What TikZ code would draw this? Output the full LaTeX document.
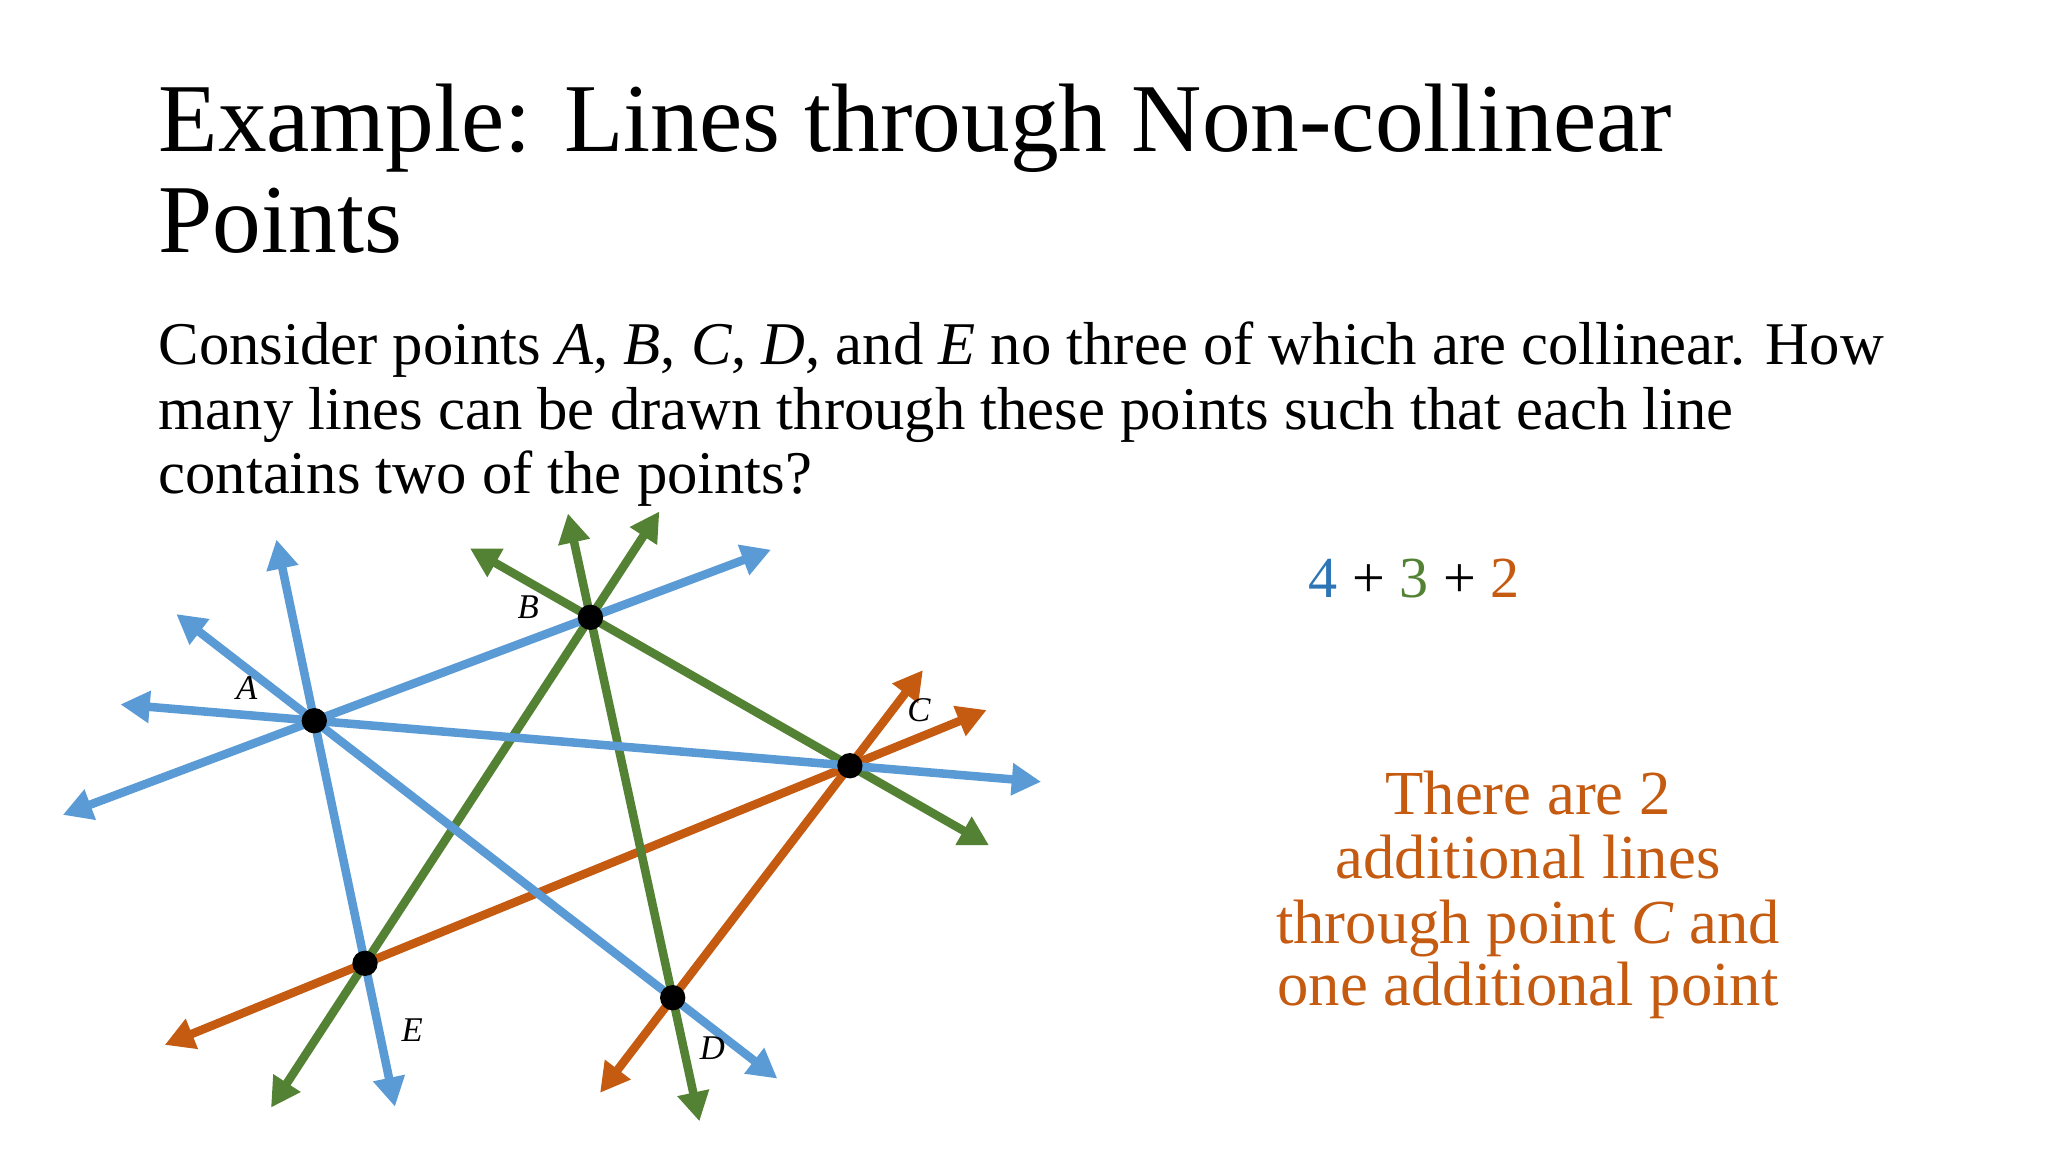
\documentclass[tikz,border=0pt]{standalone}
\usepackage{fontspec}
\setmainfont{Liberation Serif}
\usetikzlibrary{arrows.meta,calc}

\definecolor{lineblue}{RGB}{91,155,213}
\definecolor{linegreen}{RGB}{84,130,53}
\definecolor{lineorange}{RGB}{197,90,17}
\definecolor{numblue}{RGB}{46,117,182}

\tikzset{
  ray/.style={line width=3.2pt, >={Triangle[length=11pt,width=11.5pt]}, <->},
  dot/.style={circle, fill=black, inner sep=0pt, minimum size=9.5pt},
  ptlabel/.style={font=\fontsize{13}{13}\selectfont\itshape, inner sep=0pt},
  titletext/.style={font=\fontsize{36.5}{40}\selectfont, inner sep=0pt, anchor=base west},
  bodytext/.style={font=\fontsize{22.75}{26}\selectfont, inner sep=0pt, anchor=base west},
  notetext/.style={font=\fontsize{23.5}{26}\selectfont, inner sep=0pt, anchor=base, text=lineorange},
}

\begin{document}
\begin{tikzpicture}[x=0.375pt,y=0.375pt,yscale=-1,xscale=1]
\useasboundingbox (0,0) rectangle (2048,1152);

% Title and question
\node[titletext] (title1) at (158,151) {Example: Lines through Non-collinear};
\node[titletext] (title2) at (158,252) {Points};
\node[bodytext] (q1) at (158,364) {Consider points \textit{A}, \textit{B}, \textit{C}, \textit{D}, and \textit{E} no three of which are collinear. How};
\node[bodytext] (q2) at (158,429) {many lines can be drawn through these points such that each line};
\node[bodytext] (q3) at (158,493) {contains two of the points?};

% the five points
\coordinate (A) at (314.3,720.7);
\coordinate (B) at (590.4,617.3);
\coordinate (C) at (849.9,765.7);
\coordinate (D) at (672.7,997.7);
\coordinate (E) at (365.0,963.3);

% lines through C (orange)
\draw[ray, lineorange] ($(C)!-0.282!(E)$) -- ($(C)!1.413!(E)$);
\draw[ray, lineorange] ($(C)!-0.412!(D)$) -- ($(C)!1.410!(D)$);
% lines through B (green)
\draw[ray, linegreen] ($(B)!-0.464!(C)$) -- ($(B)!1.536!(C)$);
\draw[ray, linegreen] ($(B)!-0.273!(D)$) -- ($(B)!1.325!(D)$);
\draw[ray, linegreen] ($(B)!-0.306!(E)$) -- ($(B)!1.417!(E)$);
% lines through A (blue)
\draw[ray, lineblue] ($(A)!-0.911!(B)$) -- ($(A)!1.654!(B)$);
\draw[ray, lineblue] ($(A)!-0.362!(C)$) -- ($(A)!1.357!(C)$);
\draw[ray, lineblue] ($(A)!-0.385!(D)$) -- ($(A)!1.292!(D)$);
\draw[ray, lineblue] ($(A)!-0.747!(E)$) -- ($(A)!1.591!(E)$);

\node[dot] (dotA) at (A) {};
\node[dot] (dotB) at (B) {};
\node[dot] (dotC) at (C) {};
\node[dot] (dotD) at (D) {};
\node[dot] (dotE) at (E) {};

\node[ptlabel] (labA) at (246.7,688.3) {A};
\node[ptlabel] (labB) at (528.3,606.7) {B};
\node[ptlabel] (labC) at (918.8,710.0) {C};
\node[ptlabel] (labD) at (712.3,1047.7) {D};
\node[ptlabel] (labE) at (412.3,1030.0) {E};

% count and note
\node[bodytext, font=\fontsize{21.8}{24}\selectfont] (count) at (1308,597) {{\color{numblue}4} + {\color{linegreen}3} + {\color{lineorange}2}};
\node[notetext] (note1) at (1528,814) {There are 2};
\node[notetext] (note2) at (1528,878) {additional lines};
\node[notetext] (note3) at (1528,943) {through point \textit{C} and};
\node[notetext] (note4) at (1528,1005) {one additional point};

\end{tikzpicture}
\end{document}
